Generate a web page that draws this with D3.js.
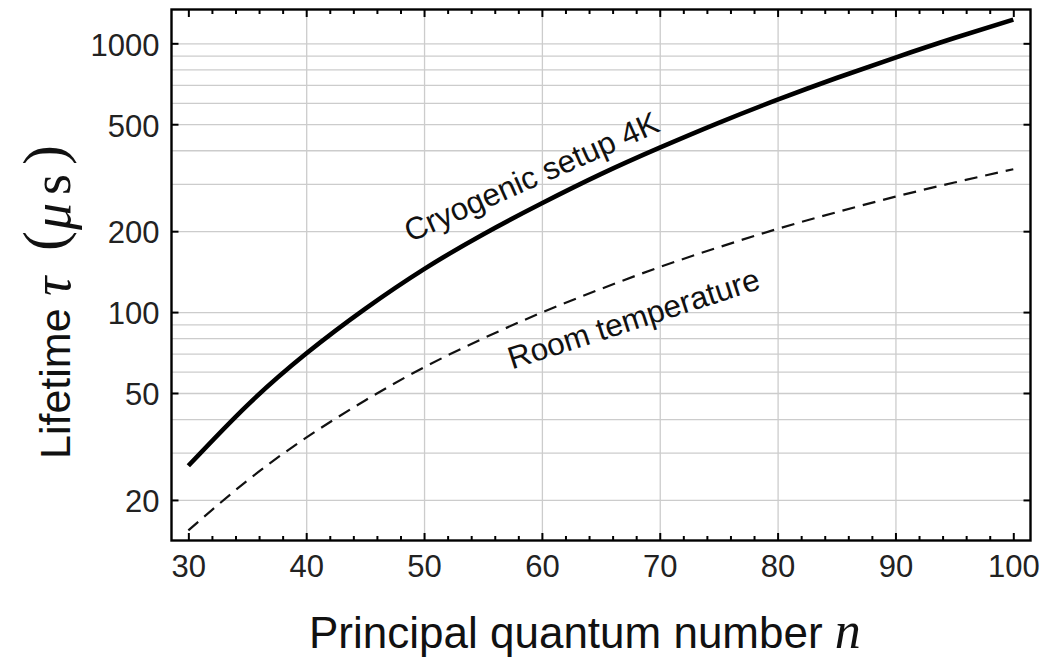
<!DOCTYPE html>
<html>
<head>
<meta charset="utf-8">
<script src="https://cdn.jsdelivr.net/npm/d3@7"></script>
<style>
  html, body { margin: 0; padding: 0; background: #fff; }
  svg { display: block; }
</style>
</head>
<body>
<svg id="chart" width="1053" height="659"></svg>
<script>
// ---- data ----
const nValues = [30, 35, 40, 45, 50, 55, 60, 65, 70, 75, 80, 85, 90, 95, 100];
const cryogenicTau = [26.8, 45.0, 70.1, 102.8, 144.5, 194.5, 254, 326, 409, 506, 617, 743, 885, 1046, 1225];
const roomTau = [15.4, 23.6, 34.1, 46.9, 62.3, 79.7, 99.7, 121.9, 147.1, 174.2, 204, 235.2, 268.8, 303.4, 340];
const xTicks = [30, 40, 50, 60, 70, 80, 90, 100];
const xMinorTicks = [32, 34, 36, 38, 42, 44, 46, 48, 52, 54, 56, 58, 62, 64, 66, 68,
                     72, 74, 76, 78, 82, 84, 86, 88, 92, 94, 96, 98];
const xGrid = [40, 50, 60, 70, 80, 90];
const yTicks = [20, 50, 100, 200, 500, 1000];
const yGrid = [20, 30, 40, 50, 60, 70, 80, 90, 100, 200, 300, 400, 500, 600, 700, 800, 900, 1000];
const xDomain = [28.57, 101.46];
const yDomain = [14.13, 1336];

// ---- layout ----
const L = 171.5, R = 1030.5, T = 9.5, B = 540.5;
const svg = d3.select("#chart");
const x = d3.scaleLinear().domain(xDomain).range([L, R]);
const y = d3.scaleLog().domain(yDomain).range([B, T]);
const sans = "'Liberation Sans', Arial, sans-serif";
const serif = "'Liberation Serif', 'Times New Roman', serif";

// grid
const gGrid = svg.append("g");
gGrid.append("g").attr("transform", `translate(0,${B})`)
  .call(d3.axisBottom(x).tickValues(xGrid).tickSize(-(B - T)).tickFormat(""))
  .call(g => g.select(".domain").remove())
  .call(g => g.selectAll("line").attr("stroke", "#cccccc").attr("stroke-width", 1.3));
gGrid.append("g").attr("transform", `translate(${L},0)`)
  .call(d3.axisLeft(y).tickValues(yGrid).tickSize(-(R - L)).tickFormat(""))
  .call(g => g.select(".domain").remove())
  .call(g => g.selectAll("line").attr("stroke", "#cccccc").attr("stroke-width", 1.3));

// curves
const line = d3.line().x((d, i) => x(nValues[i])).y(d => y(d)).curve(d3.curveNatural);
svg.append("path").datum(roomTau).attr("d", line)
  .attr("fill", "none").attr("stroke", "#111").attr("stroke-width", 2.2)
  .attr("stroke-dasharray", "13,8");
svg.append("path").datum(cryogenicTau).attr("d", line)
  .attr("fill", "none").attr("stroke", "#000").attr("stroke-width", 4.6)
  .attr("stroke-linecap", "butt");

// axes (inward ticks)
function styleAxis(g) {
  g.select(".domain").remove();
  g.selectAll("line").attr("stroke", "#000").attr("stroke-width", 2);
  g.selectAll("text").attr("font-family", sans).attr("font-size", 31).attr("fill", "#222");
}
// bottom
svg.append("g").attr("transform", `translate(0,${B})`)
  .call(d3.axisBottom(x).tickValues(xTicks).tickSizeInner(-7.5).tickPadding(36).tickFormat(d3.format("d")))
  .call(styleAxis)
  .call(g => g.selectAll("text").attr("dy", "0"));
svg.append("g").attr("transform", `translate(0,${B})`)
  .call(d3.axisBottom(x).tickValues(xMinorTicks).tickSizeInner(-4.5).tickFormat(""))
  .call(styleAxis);
// top
svg.append("g").attr("transform", `translate(0,${T})`)
  .call(d3.axisTop(x).tickValues(xTicks).tickSizeInner(-7.5).tickFormat(""))
  .call(styleAxis);
svg.append("g").attr("transform", `translate(0,${T})`)
  .call(d3.axisTop(x).tickValues(xMinorTicks).tickSizeInner(-4.5).tickFormat(""))
  .call(styleAxis);
// left
svg.append("g").attr("transform", `translate(${L},0)`)
  .call(d3.axisLeft(y).tickValues(yTicks).tickSizeInner(-7).tickPadding(12).tickFormat(d3.format("d")))
  .call(styleAxis)
  .call(g => g.selectAll("text").attr("dy", "0.38em"));
// right
svg.append("g").attr("transform", `translate(${R},0)`)
  .call(d3.axisRight(y).tickValues(yTicks).tickSizeInner(-7).tickFormat(""))
  .call(styleAxis);

// frame
svg.append("rect").attr("x", L).attr("y", T).attr("width", R - L).attr("height", B - T)
  .attr("fill", "none").attr("stroke", "#000").attr("stroke-width", 2.4);

// curve labels
svg.append("text").attr("transform", "translate(532,178) rotate(-24)")
  .attr("text-anchor", "middle").attr("dy", "0.3em")
  .attr("font-family", sans).attr("font-size", 31.5).attr("fill", "#111")
  .text("Cryogenic setup 4K");
svg.append("text").attr("transform", "translate(634,320) rotate(-18)")
  .attr("text-anchor", "middle").attr("dy", "0.3em")
  .attr("font-family", sans).attr("font-size", 31.5).attr("fill", "#111")
  .text("Room temperature");

// x axis label
const xl = svg.append("text").attr("x", 309).attr("y", 648)
  .attr("font-family", sans).attr("font-size", 44).attr("fill", "#111");
xl.append("tspan").text("Principal quantum number ");
xl.append("tspan").attr("font-family", serif).attr("font-style", "italic").attr("font-size", 52).text("n");

// y axis label
const yl = svg.append("text").attr("transform", "translate(70,459) rotate(-90)")
  .attr("font-family", sans).attr("font-size", 43).attr("fill", "#111");
yl.append("tspan").attr("x", 0).text("Lifetime");
yl.append("tspan").attr("x", 163).attr("font-family", serif).attr("font-style", "italic").attr("font-size", 54).text("τ");
yl.append("tspan").attr("x", 208).attr("y", -6).attr("font-family", serif).attr("font-size", 60).text("(");
yl.append("tspan").attr("x", 229).attr("y", 0).attr("font-family", serif).attr("font-style", "italic").attr("font-size", 54).text("μ");
yl.append("tspan").attr("x", 264).attr("font-family", serif).attr("font-size", 54).text("s");
yl.append("tspan").attr("x", 294).attr("y", -6).attr("font-family", serif).attr("font-size", 60).text(")");
</script>
</body>
</html>
